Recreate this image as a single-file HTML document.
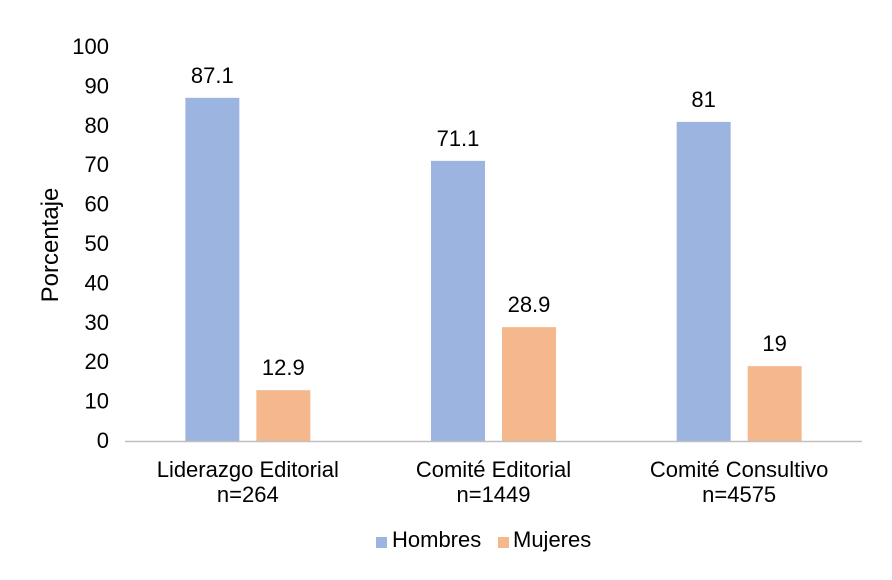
<!DOCTYPE html>
<html><head><meta charset="utf-8"><style>
html,body{margin:0;padding:0;background:#fff;}
svg{display:block;font-family:"Liberation Sans",Arial,sans-serif;}
</style></head><body>
<svg id="chart" width="892" height="580"></svg>
<script>
const categories=["Liderazgo Editorial","Comité Editorial","Comité Consultivo"];
const subLabels=["n=264","n=1449","n=4575"];
const hombres=[87.1,71.1,81];
const mujeres=[12.9,28.9,19];
const hombresLabels=["87.1","71.1","81"];
const mujeresLabels=["12.9","28.9","19"];
const yTicks=[0,10,20,30,40,50,60,70,80,90,100];

const NS="http://www.w3.org/2000/svg";
const svg=document.getElementById('chart');
const left=125,right=862,y0=441,y100=47;
const yScale=v=>y0-(v/100)*(y0-y100);
const gw=(right-left)/categories.length;
const xCenter=i=>left+gw*(i+0.5);
const off=35.5,bw=54;
function mk(tag,attrs,text){const e=document.createElementNS(NS,tag);for(const k in attrs)e.setAttribute(k,attrs[k]);if(text!==undefined)e.textContent=text;svg.appendChild(e);return e;}

yTicks.forEach(t=>{
  const e=mk('text',{x:109,y:yScale(t)+7,'text-anchor':'end','font-size':22,fill:'#000'},String(t));
  
  
});
const yt=mk('text',{x:0,y:0,transform:'translate(58,245) rotate(-90)','text-anchor':'middle','font-size':24,fill:'#000'},'Porcentaje');



categories.forEach((c,i)=>{
  const cx=xCenter(i);
  const hx=cx-off-bw/2, mx=cx+off-bw/2;
  const hb=mk('rect',{x:hx,y:yScale(hombres[i]),width:bw,height:y0-yScale(hombres[i]),fill:'#9cb4e0'});
  
  
  const mb=mk('rect',{x:mx,y:yScale(mujeres[i]),width:bw,height:y0-yScale(mujeres[i]),fill:'#f5b88c'});
  
  
  const hl=mk('text',{x:cx-off,y:yScale(hombres[i])-15,'text-anchor':'middle','font-size':22,fill:'#000'},hombresLabels[i]);
  
  
  const ml=mk('text',{x:cx+off,y:yScale(mujeres[i])-15,'text-anchor':'middle','font-size':22,fill:'#000'},mujeresLabels[i]);
  
  
  const cl=mk('text',{x:cx,y:477,'text-anchor':'middle','font-size':22,fill:'#000'},c);
  
  
  const sl=mk('text',{x:cx,y:502,'text-anchor':'middle','font-size':22,fill:'#000'},subLabels[i]);
  
  
});
const ax=mk('line',{x1:left,y1:y0+0.5,x2:right,y2:y0+0.5,stroke:'#bfbfbf','stroke-width':1.5});



const lh=mk('rect',{x:376,y:537,width:11,height:11,fill:'#9cb4e0'});


const lht=mk('text',{x:392,y:547,'font-size':22,fill:'#000'},'Hombres');


const lm=mk('rect',{x:498,y:537,width:11,height:11,fill:'#f5b88c'});


const lmt=mk('text',{x:513,y:547,'font-size':22,fill:'#000'},'Mujeres');


</script>
</body></html>
